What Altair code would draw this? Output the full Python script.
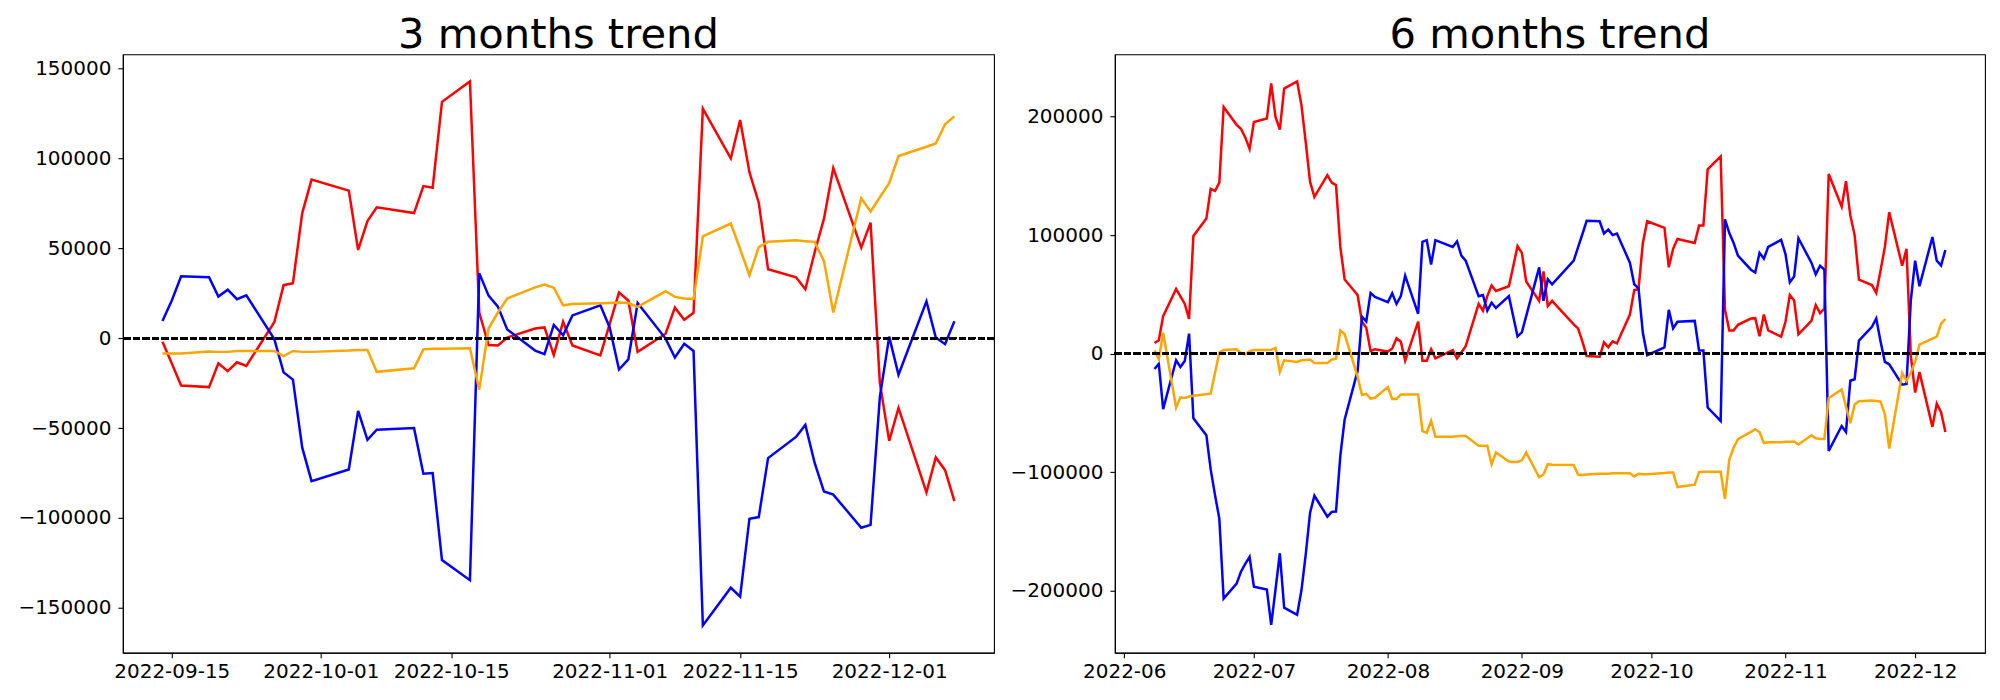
import altair as alt
import pandas as pd

# ---------------- 3 months panel ----------------
dates_3m = [
    "2022-09-14", "2022-09-15", "2022-09-16", "2022-09-19", "2022-09-20", "2022-09-21",
    "2022-09-22", "2022-09-23", "2022-09-26", "2022-09-27", "2022-09-28", "2022-09-29",
    "2022-09-30", "2022-10-04", "2022-10-05", "2022-10-06", "2022-10-07", "2022-10-11",
    "2022-10-12", "2022-10-13", "2022-10-14", "2022-10-17", "2022-10-18", "2022-10-19",
    "2022-10-20", "2022-10-21", "2022-10-24", "2022-10-25", "2022-10-26", "2022-10-27",
    "2022-10-28", "2022-10-31", "2022-11-01", "2022-11-02", "2022-11-03", "2022-11-04",
    "2022-11-07", "2022-11-08", "2022-11-09", "2022-11-10", "2022-11-11", "2022-11-14",
    "2022-11-15", "2022-11-16", "2022-11-17", "2022-11-18", "2022-11-21", "2022-11-22",
    "2022-11-23", "2022-11-24", "2022-11-25", "2022-11-28", "2022-11-29", "2022-11-30",
    "2022-12-01", "2022-12-02", "2022-12-05", "2022-12-06", "2022-12-07", "2022-12-08",
]
red_3m = [
    -2000, -14000, -26300, -27200, -14000, -18300, -13400, -15400, 8900, 29500, 30600, 69600,
    88200, 82100, 49100, 65200, 72800, 69600, 84600, 83700, 131500, 142800, 14300, -3800,
    -4000, 400, 5400, 6000, -9400, 9200, -4000, -9600, 8000, 25400, 21000, -7600,
    2500, 17000, 10300, 14100, 127700, 100000, 121400, 92400, 75400, 38400, 33900, 27200,
    47800, 66500, 94600, 50400, 64300, -25000, -57100, -38800, -85700, -66300, -73400, -90600,
]
blue_3m = [
    9600, 21000, 34400, 33900, 23200, 27000, 21700, 23900, -500, -19000, -23000, -60900,
    -79500, -73000, -40400, -56500, -50900, -50000, -75400, -75000, -123400, -134600, 36200, 23700,
    17600, 4900, -6900, -8900, 7400, 1600, 12700, 18300, 6000, -17400, -11800, 19600,
    -200, -10700, -3100, -7100, -159800, -138800, -143700, -100400, -99500, -66700, -54900, -48200,
    -69400, -85300, -87000, -105400, -103800, -32600, 900, -20300, 20500, 400, -3300, 9400,
]
orange_3m = [
    -8500, -8500, -8500, -7400, -7600, -7600, -7100, -7100, -7100, -10000, -7100, -7600,
    -7600, -6900, -6500, -6500, -18700, -16700, -6200, -5800, -5800, -5600, -28600, 5400,
    14300, 22100, 28300, 29900, 28100, 18300, 19000, 19400, 19600, 19900, 19600, 17400,
    26100, 23000, 22100, 21900, 56700, 63800, 49600, 35000, 50700, 53600, 54500, 54000,
    53600, 42900, 14300, 77900, 70500, 78400, 86200, 101300, 106500, 108300, 119000, 123400,
]

# ---------------- 6 months panel ----------------
dates_6m = [
    "2022-06-08", "2022-06-09", "2022-06-10", "2022-06-13", "2022-06-14", "2022-06-15",
    "2022-06-16", "2022-06-17", "2022-06-20", "2022-06-21", "2022-06-22", "2022-06-23",
    "2022-06-24", "2022-06-27", "2022-06-28", "2022-06-29", "2022-06-30",
    "2022-07-01", "2022-07-04", "2022-07-05", "2022-07-06", "2022-07-07", "2022-07-08",
    "2022-07-11", "2022-07-12", "2022-07-13", "2022-07-14", "2022-07-15", "2022-07-18",
    "2022-07-19", "2022-07-20", "2022-07-21", "2022-07-22", "2022-07-25", "2022-07-26",
    "2022-07-27", "2022-07-28", "2022-07-29",
    "2022-08-01", "2022-08-02", "2022-08-03", "2022-08-04", "2022-08-05", "2022-08-08",
    "2022-08-09", "2022-08-10", "2022-08-11", "2022-08-12", "2022-08-16", "2022-08-17",
    "2022-08-18", "2022-08-19", "2022-08-22", "2022-08-23", "2022-08-24", "2022-08-25",
    "2022-08-26", "2022-08-29", "2022-08-30", "2022-08-31",
    "2022-09-01", "2022-09-02", "2022-09-05", "2022-09-06", "2022-09-07", "2022-09-08",
    "2022-09-13", "2022-09-14", "2022-09-15", "2022-09-16", "2022-09-19", "2022-09-20",
    "2022-09-21", "2022-09-22", "2022-09-23", "2022-09-26", "2022-09-27", "2022-09-28",
    "2022-09-29", "2022-09-30",
    "2022-10-04", "2022-10-05", "2022-10-06", "2022-10-07", "2022-10-11", "2022-10-12",
    "2022-10-13", "2022-10-14", "2022-10-17", "2022-10-18", "2022-10-19", "2022-10-20",
    "2022-10-21", "2022-10-24", "2022-10-25", "2022-10-26", "2022-10-27", "2022-10-28",
    "2022-10-31",
    "2022-11-01", "2022-11-02", "2022-11-03", "2022-11-04", "2022-11-07", "2022-11-08",
    "2022-11-09", "2022-11-10", "2022-11-11", "2022-11-14", "2022-11-15", "2022-11-16",
    "2022-11-17", "2022-11-18", "2022-11-21", "2022-11-22", "2022-11-23", "2022-11-24",
    "2022-11-25", "2022-11-28", "2022-11-29", "2022-11-30",
    "2022-12-01", "2022-12-02", "2022-12-05", "2022-12-06", "2022-12-07", "2022-12-08",
]
red_6m = [
    9000, 11300, 31600, 54500, 48200, 41900, 29200, 99300, 113900, 138900, 137200, 144200,
    208000, 193000, 189700, 182400, 172700,
    195300, 198300, 227900, 199600, 189000, 223600, 229600, 209600, 178100, 144800, 132200,
    150500, 144200, 142200, 90000, 62500, 49500, 26900, 21900, 2000, 3700,
    1700, 4300, 13000, 10000, -6000, 26900, -6000, -6000, 3700, -4000, 3000, -4000,
    1000, 6300, 41900, 36200, 48500, 57500, 52800, 56800, 73400, 90700,
    85000, 60800, 44500, 69400, 40200, 44500, 24600, 21300, 10300, -2000, -2700, 9600,
    5300, 10300, 8600, 32900, 53500, 54500, 93300, 111600,
    106000, 72800, 88400, 96700, 93300, 108000, 108000, 155500, 166400, 36900, 19600, 19600,
    24300, 29600, 29900, 14600, 32900, 19600, 14300,
    26900, 49500, 44800, 16300, 27600, 40900, 34200, 37900, 151500, 123900, 145500, 116600,
    100000, 62500, 57800, 51200, 70100, 90000, 119300, 74100, 88400, -2000,
    -32900, -15600, -61800, -42200, -49500, -66100,
]
blue_6m = [
    -13000, -8600, -46800, -5600, -11300, -6300, 16900, -54500, -68800, -97700, -119300, -139200,
    -206600, -194000, -184000, -177300, -171400,
    -196700, -199000, -228900, -199000, -168400, -214300, -220300, -199700, -169100, -134200, -119900,
    -137500, -133500, -133200, -86000, -55500, -14600, 31200, 27200, 51200, 47800,
    43500, 50800, 41900, 48500, 65800, 33600, 94300, 95700, 75100, 95700, 90000, 94700,
    82700, 78400, 48500, 49500, 36200, 42900, 38500, 48500, 31600, 14600,
    17900, 31600, 72800, 44500, 62800, 58500, 78400, 89700, 100700, 112000, 111600, 101300,
    104600, 100000, 101300, 76700, 58500, 55100, 17600, -1300,
    5300, 36900, 21300, 26900, 27600, 2700, 2700, -45500, -56800, 113300, 101700, 93300,
    82700, 70800, 68400, 85000, 80100, 90000, 96000,
    84000, 60100, 65100, 97300, 76700, 66800, 74100, 70800, -82100, -61100, -66100, -22900,
    -21600, 11000, 22600, 29600, 10300, -7000, -9000, -26200, -25600, 45000,
    78400, 56800, 98300, 78400, 74400, 87400,
]
orange_6m = [
    2700, -4700, 17600, -45500, -36900, -37500, -36200, -35500, -34200, -33600, -16300, 1000,
    3000, 3700, 300, -700, 2000,
    3000, 3000, 3300, 4700, -15300, -5600, -7000, -5600, -5300, -5000, -8000,
    -8000, -5000, -4300, 19600, 16300, -19600, -34900, -33900, -37900, -37200,
    -28200, -38200, -38200, -34500, -34500, -34500, -65400, -66800, -56800, -70100, -70100, -69800,
    -69400, -69400, -77700, -77700, -77700, -93300, -83400, -91000, -91400, -91400,
    -90000, -83400, -104300, -102000, -93300, -93700, -94000, -102000, -102300, -102000, -101300, -101300,
    -101300, -101000, -101000, -101000, -103600, -101300, -101700, -101700,
    -100700, -100300, -100300, -112600, -110600, -100000, -99700, -99700, -99700, -122600, -89400, -79400,
    -72100, -66100, -63800, -66100, -75400, -74700, -74700,
    -74400, -74400, -74100, -76700, -68800, -71400, -72100, -72100, -37500, -30200, -44500, -58800,
    -42900, -40200, -39500, -39900, -40500, -51200, -80100, -16300, -22900, -16000,
    -7000, 7600, 12600, 14300, 25200, 29200,
]

series_names = ["red", "blue", "orange"]
series_colors = ["#ff0000", "#0000ff", "#ffa500"]

FONT = "DejaVu Sans"


def long_df(dates, red, blue, orange):
    rows = []
    for name, vals in zip(series_names, (red, blue, orange)):
        for d, v in zip(dates, vals):
            rows.append({"date": d + "T00:00:00", "value": v, "series": name})
    return pd.DataFrame(rows)


def panel(df, title, xdom, xticks, xfmt, ydom, yticks, width):
    lines = alt.Chart(df).mark_line(strokeWidth=2.5, clip=True).encode(
        x=alt.X(
            "date:T",
            scale=alt.Scale(domain=xdom, nice=False),
            axis=alt.Axis(values=xticks, format=xfmt, title=None, labelPadding=4),
        ),
        y=alt.Y(
            "value:Q",
            scale=alt.Scale(domain=ydom, nice=False, zero=False),
            axis=alt.Axis(values=yticks, format="d", title=None, labelPadding=7),
        ),
        color=alt.Color(
            "series:N",
            scale=alt.Scale(domain=series_names, range=series_colors),
            legend=None,
        ),
        order=alt.Order("date:T"),
    )
    zero = alt.Chart(df).mark_rule(
        color="black", strokeDash=[6.5, 3], strokeWidth=2.2
    ).encode(y=alt.datum(0))
    return alt.layer(lines, zero).properties(
        width=width,
        height=599,
        title=alt.TitleParams(
            title,
            fontSize=41.7,
            font=FONT,
            fontWeight="normal",
            color="black",
            anchor="middle",
            offset=-44,
            baseline="bottom",
        ),
    )


df3 = long_df(dates_3m, red_3m, blue_3m, orange_3m)
df6 = long_df(dates_6m, red_6m, blue_6m, orange_6m)

left = panel(
    df3,
    "3 months trend",
    [alt.DateTime(year=2022, month=9, date=9, hours=18),
     alt.DateTime(year=2022, month=12, date=12, hours=6)],
    [alt.DateTime(year=2022, month=9, date=15),
     alt.DateTime(year=2022, month=10, date=1),
     alt.DateTime(year=2022, month=10, date=15),
     alt.DateTime(year=2022, month=11, date=1),
     alt.DateTime(year=2022, month=11, date=15),
     alt.DateTime(year=2022, month=12, date=1)],
    "%Y-%m-%d",
    [-174930, 157930],
    [-150000, -100000, -50000, 0, 50000, 100000, 150000],
    872,
)

right = panel(
    df6,
    "6 months trend",
    [alt.DateTime(year=2022, month=5, date=29, hours=20),
     alt.DateTime(year=2022, month=12, date=17, hours=4)],
    [alt.DateTime(year=2022, month=m, date=1) for m in range(6, 13)],
    "%Y-%m",
    [-252300, 252500],
    [-200000, -100000, 0, 100000, 200000],
    871,
)

chart = (
    alt.hconcat(left, right, spacing=13)
    .properties(
        padding={"left": 9, "top": 5, "right": 5, "bottom": 5},
        background="white",
    )
    .configure_axis(
        labelFont=FONT,
        labelFontSize=20,
        labelColor="black",
        tickColor="black",
        tickSize=5,
        tickWidth=1.1,
        domainColor="black",
        domainWidth=1.1,
        grid=False,
        labelFlush=False,
        labelOverlap=False,
    )
    .configure_view(stroke="black", strokeWidth=1.1)
)

chart.save("out.html", embed_options={"renderer": "svg", "actions": False})
